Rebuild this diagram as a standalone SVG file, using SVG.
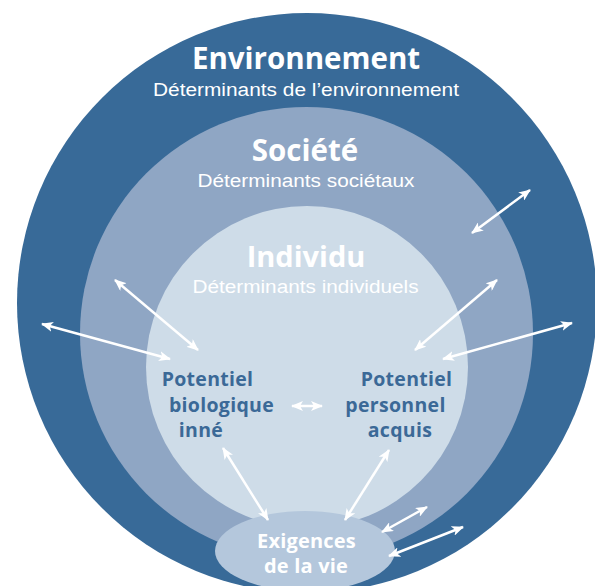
<svg xmlns="http://www.w3.org/2000/svg" width="595" height="586" viewBox="0 0 595 586">
  <style>
    .title { font-family: "Open Sans", "Liberation Sans", sans-serif; font-weight: 700; fill: #ffffff; text-anchor: middle; }
    .sub { font-family: "Liberation Sans", Arial, sans-serif; font-weight: 400; fill: #ffffff; text-anchor: middle; font-size: 18px; }
    .pot { font-family: "Open Sans", "Liberation Sans", sans-serif; font-weight: 700; fill: #3b6997; font-size: 19.5px; text-anchor: middle; letter-spacing: 0.3px; }
    .exi { font-family: "Open Sans", "Liberation Sans", sans-serif; font-weight: 700; fill: #ffffff; font-size: 20px; text-anchor: middle; letter-spacing: 0.2px; }
    .arrow { stroke: #ffffff; stroke-width: 2.5; fill: none; marker-start: url(#head); marker-end: url(#head); }
  </style>
  <defs>
    <marker id="head" viewBox="0 0 12 10" refX="11" refY="5" markerWidth="12" markerHeight="10" markerUnits="userSpaceOnUse" orient="auto-start-reverse">
      <path d="M0,0 L12,5 L0,10 L3,5 Z" fill="#ffffff"/>
    </marker>
  </defs>

  <rect width="595" height="586" fill="#ffffff"/>

  <g id="environnement">
    <circle cx="307" cy="303" r="290" fill="#386a98"/>
    <text class="title" x="306" y="69" font-size="29.5">Environnement</text>
    <text class="sub" x="306" y="96" textLength="306" lengthAdjust="spacingAndGlyphs">Déterminants de l’environnement</text>
  </g>

  <g id="societe">
    <circle cx="306.5" cy="333.5" r="226.5" fill="#8fa6c4"/>
    <text class="title" x="305" y="161" font-size="29.5">Société</text>
    <text class="sub" x="306" y="187" textLength="217" lengthAdjust="spacingAndGlyphs">Déterminants sociétaux</text>
  </g>

  <g id="individu">
    <circle cx="307" cy="367" r="161" fill="#cedce8"/>
    <text class="title" x="306" y="267" font-size="29">Individu</text>
    <text class="sub" x="305.5" y="293" textLength="226" lengthAdjust="spacingAndGlyphs">Déterminants individuels</text>
  </g>

  <g id="potentiel-biologique">
    <text class="pot" x="207.5" y="386">Potentiel</text>
    <text class="pot" x="221.5" y="412">biologique</text>
    <text class="pot" x="201" y="437">inné</text>
  </g>

  <g id="potentiel-personnel">
    <text class="pot" x="406.5" y="386">Potentiel</text>
    <text class="pot" x="395.5" y="412">personnel</text>
    <text class="pot" x="400" y="437">acquis</text>
  </g>

  <g id="exigences">
    <ellipse cx="305" cy="551" rx="90" ry="40" fill="#b4c7dc"/>
    <text class="exi" x="306.5" y="548">Exigences</text>
    <text class="exi" x="306" y="573">de la vie</text>
  </g>

  <g id="connectors">
    <line class="arrow" x1="42" y1="324" x2="170" y2="359"/>
    <line class="arrow" x1="115" y1="280" x2="198" y2="350"/>
    <line class="arrow" x1="530" y1="190" x2="472" y2="233"/>
    <line class="arrow" x1="497" y1="280" x2="415" y2="350"/>
    <line class="arrow" x1="572" y1="323" x2="443" y2="359"/>
    <line class="arrow" x1="292" y1="406" x2="322" y2="406"/>
    <line class="arrow" x1="223" y1="448" x2="268" y2="520"/>
    <line class="arrow" x1="389" y1="450" x2="345" y2="520"/>
    <line class="arrow" x1="427" y1="507" x2="382" y2="532"/>
    <line class="arrow" x1="463" y1="527" x2="389" y2="556"/>
  </g>
</svg>
